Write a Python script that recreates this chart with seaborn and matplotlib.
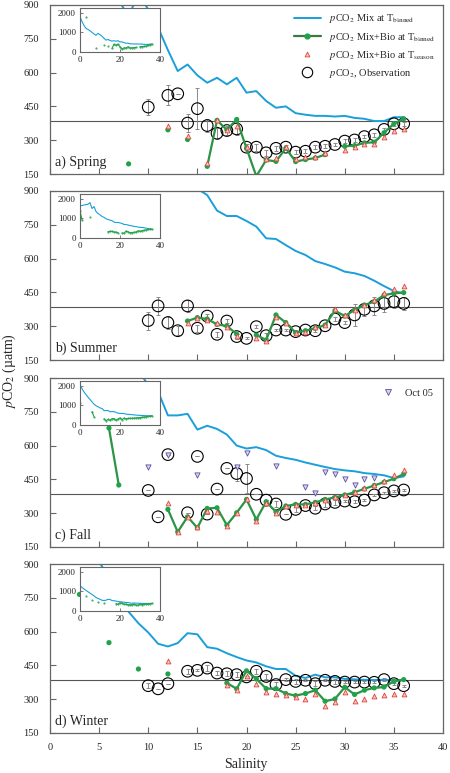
import numpy as np
import matplotlib.pyplot as plt
from matplotlib.lines import Line2D
import seaborn as sns

nan = np.nan

# === Data ===
salinity = np.arange(0, 37)
atm_pco2 = 387

spring_mix = [1800, 1550, 1350, 1200, 1150, 1080, 1000, 920, 850, 950, 880, 800, 700,
              607, 636, 588, 555, 577, 548, 577, 511, 518, 474, 444, 450, 420, 413, 408,
              408, 405, 408, 399, 395, 385, 385, 402, 402]
spring_bio = [nan, nan, nan, 1800, nan, nan, nan, nan, 195, nan, nan, nan, 346, nan, 303, nan,
              184, 388, 346, 392, 264, 140, 212, 206, 264, 205, 214, 221, 236, nan, 273, 276,
              288, 291, 333, 373, 395]
spring_season = [nan] * 12 + [361, nan, 318, nan, 199, 388, 346, 361, 269, nan, 217, 220, 269,
                              217, 224, 227, 242, nan, 258, 269, 281, 281, 316, 340, 350]
spring_obs = [nan] * 10 + [447, nan, 499, 506, 376, 440, 365, 331, 343, 350, 269, 269, 244, 264,
                           269, 247, 251, 269, 273, 281, 296, 301, 316, 324, 348, 373, 373]
spring_err = [0] * 10 + [35, 0, 45, 0, 40, 90, 30, 25, 20, 25, 15, 15, 12, 10, 10, 10, 10, 8, 8,
                         6, 8, 8, 6, 8, 6, 8, 8]

summer_mix = [1650, 1650, 1680, 1700, 1720, 1800, 1500, 1600, 1350, 1250, 1180, 1100, 1050,
              980, 940, 910, 882, 813, 789, 789, 767, 742, 690, 687, 660, 634, 616, 589, 576,
              561, 542, 535, 523, 502, 478, 456, 446]
summer_bio = [1400, 920, nan, nan, nan, 1080] + [nan] * 8 + [323, 338, 332, 308, 301, 265, nan,
                                                          261, 239, 350, 316, 271, 280, 291, 305,
                                                          369, 345, 372, 394, 409, 438, 446, 449]
summer_season = [nan] * 14 + [316, 335, 327, 316, 298, 257, nan, 249, 236, 339, 316, 268, 276,
                              298, 305, 376, 350, 372, 394, 416, 446, 464, 478]
summer_obs = [nan] * 10 + [325, 390, 316, 280, 390, 291, 345, 264, 323, 254, 246, 298, 258, 283,
                           283, 276, 283, 280, 302, 332, 316, 350, 375, 390, 401, 409, 401]
summer_err = [0] * 10 + [40, 40, 30, 20, 25, 15, 10, 10, 10, 10, 5, 8, 10, 6, 6, 6, 6, 6, 6, 8,
                         6, 50, 30, 40, 40, 30, 30]

fall_mix = [2050, 1850, 1680, 1550, 1420, 1300, 1180, 1060, 980, 930, 870, 840, 734, 734, 741,
            671, 688, 674, 649, 600, 587, 593, 580, 555, 545, 537, 525, 515, 505, 496, 490, 486,
            478, 474, 468, 456, 463]
fall_bio = [1130, nan, nan, nan, nan, nan, 678, 425, nan, nan, nan, nan] + [
    317, 217, 284, 235, 321, 324, 247, 302, 361, 272, 351, 306, 332, 339, 339, 348, 361, 370,
    381, 393, 408, 423, 438, 453, 474]
fall_season = [nan] * 12 + [344, 217, 284, 239, 309, 306, 242, 302, 363, 266, 347, 302, 332,
                            336, 336, 344, 359, 370, 381, 396, 411, 426, 444, 471, 490]
fall_obs = [nan] * 10 + [401, 284, 560, nan, 302, 552, 296, 407, 499, 476, 454, 384, 358, 341,
                         295, 317, 334, 322, 341, 348, 354, 351, 358, 381, 391, 399, 403]
fall_err = [0] * 10 + [0, 0, 0, 0, 0, 0, 0, 0, 0, 35, 65, 0, 0, 12, 0, 10, 0, 8, 12, 10, 6, 6,
                       6, 6, 4, 6, 6]
fall_oct05 = [nan] * 10 + [503, nan, 560, nan, nan, 469, nan, nan, nan, 506, 567, nan, nan, 508,
                           nan, nan, 418, 388, 481, 475, 451, 426, 453, 456, nan, nan, nan]

winter_mix = [1300, 1200, 1120, 1050, 980, 910, 840, 770, 688, 637, 596, 546, 534, 549, 593,
              588, 531, 524, 504, 487, 472, 463, 446, 434, 434, 404, 394, 409, 397, 397, 390,
              388, 386, 385, 386, 384, 385]
winter_bio = [nan, nan, nan, 765, nan, nan, 551, nan, nan, 434, nan, nan, 412] + [nan] * 5 + [
    372, 346, 426, 390, 347, 347, 325, 316, 325, 340, 291, 301, 353, 321, 340, 350, 354, 379, 387]
winter_season = [nan] * 12 + [468] + [nan] * 5 + [365, 340, 404, 368, 332, 325, 318, 310, 301,
                                                  325, 269, 288, 332, 291, 299, 313, 318, 325, 324]
winter_obs = [nan] * 10 + [360, 346, 369, nan, 424, 428, 438, 416, 413, 409, 399, 424, 401, 365,
                           387, 379, 384, 369, 384, 379, 376, 376, 376, 375, 387, 369, 360]
winter_err = [0] * 10 + [10, 0, 0, 0, 10, 5, 15, 10, 10, 12, 6, 10, 10, 12, 5, 10, 5, 10, 5, 10,
                         5, 5, 5, 5, 5, 5, 5]

panels = [
    ("a) Spring", spring_mix, spring_bio, spring_season, spring_obs, spring_err),
    ("b) Summer", summer_mix, summer_bio, summer_season, summer_obs, summer_err),
    ("c) Fall", fall_mix, fall_bio, fall_season, fall_obs, fall_err),
    ("d) Winter", winter_mix, winter_bio, winter_season, winter_obs, winter_err),
]

# === Style ===
sns.set_style("ticks")
plt.rcParams["font.family"] = ["Liberation Serif", "DejaVu Serif"]
plt.rcParams["mathtext.fontset"] = "stix"

blue = "#1a9fdb"
green = "#1fa34a"
green_line = "#2b9445"
red = "#e0443a"
red_fill = "#f7c6c1"
purple = "#5a4fa0"
spine_col = "#666666"

W, H = 450, 773
fig = plt.figure(figsize=(W / 100, H / 100), dpi=100)

tops = [5, 191, 378, 564]
ph = 169
axes = []
for i, (label, mix, bio, season, obs, err) in enumerate(panels):
    top = tops[i]
    ax = fig.add_axes([50 / W, 1 - (top + ph) / H, 393 / W, ph / H])
    axes.append(ax)

    ax.axhline(atm_pco2, color="#555555", lw=0.8, zorder=1)
    sns.lineplot(x=salinity, y=mix, color=blue, lw=1.4, ax=ax, zorder=2)
    ax.errorbar(salinity, obs, yerr=err, fmt="none", ecolor="#8a8a8a", elinewidth=0.7,
                capsize=1.6, capthick=0.7, zorder=3)
    sns.scatterplot(x=salinity, y=obs, marker="o", s=70, facecolors="none", edgecolor="black",
                    linewidth=0.8, ax=ax, zorder=4)
    ax.plot(salinity, bio, color=green_line, lw=1.6, zorder=5)
    sns.scatterplot(x=salinity, y=bio, color=green, s=14, edgecolor="none", ax=ax, zorder=6)
    sns.scatterplot(x=salinity, y=season, marker="^", s=12, color=red_fill, edgecolor=red,
                    linewidth=0.6, ax=ax, zorder=7)
    if label == "c) Fall":
        sns.scatterplot(x=salinity, y=fall_oct05, marker="v", s=14, color="#d8d4ef",
                        edgecolor=purple, linewidth=0.6, ax=ax, zorder=8)

    ax.set_xlim(0, 40)
    ax.set_ylim(150, 900)
    ax.set_xticks(range(0, 41, 5))
    ax.set_yticks(range(150, 901, 150))
    ax.tick_params(direction="in", length=4, width=0.8, color=spine_col, labelsize=7.5)
    ax.tick_params(axis="y", pad=8)
    ax.tick_params(axis="x", pad=7, labelbottom=(i == 3))
    ax.set_xlabel("")
    ax.set_ylabel("")
    for s in ax.spines.values():
        s.set_color(spine_col)
        s.set_linewidth(0.9)
    ax.text(0.012, 0.03, label, transform=ax.transAxes, fontsize=10, ha="left", va="bottom")

    # inset with the full range
    ins = fig.add_axes([80 / W, 1 - (top + 3 + 44) / H, 80 / W, 44 / H])
    sns.lineplot(x=salinity, y=mix, color=blue, lw=0.8, ax=ins)
    ins.plot(salinity, bio, color=green, lw=0.8, marker="o", ms=0.5)
    ins.set_xlim(0, 40)
    ins.set_ylim(0, 2240)
    ins.set_xticks([0, 20, 40])
    ins.set_yticks([0, 1000, 2000])
    ins.tick_params(direction="in", length=2, width=0.6, color=spine_col, labelsize=6.5, pad=3)
    ins.set_xlabel("")
    ins.set_ylabel("")
    for s in ins.spines.values():
        s.set_color(spine_col)
        s.set_linewidth(0.8)

# legend in spring panel
handles = [
    Line2D([], [], color=blue, lw=1.4),
    Line2D([], [], color="#3c7a40", lw=1.6, marker="o", ms=3.5, mfc=green, mec=green),
    Line2D([], [], ls="none", marker="^", ms=3.5, mfc=red_fill, mec=red, mew=0.6),
    Line2D([], [], ls="none", marker="o", ms=7.5, mfc="none", mec="black", mew=0.8),
]
labels = [
    r"$p$CO$_2$ Mix at T$_{\rm binned}$",
    r"$p$CO$_2$ Mix+Bio at T$_{\rm binned}$",
    r"$p$CO$_2$ Mix+Bio at T$_{\rm season}$",
    r"$p$CO$_2$, Observation",
]
axes[0].legend(handles, labels, loc="upper right", frameon=False, fontsize=7.5,
               handlelength=2.6, labelspacing=0.5, borderaxespad=0.3)

oct_handle = Line2D([], [], ls="none", marker="v", ms=4, mfc="#d8d4ef", mec=purple, mew=0.6)
axes[2].legend([oct_handle], ["Oct 05"], loc="upper right", frameon=False, fontsize=7.5,
               handlelength=1.5, borderaxespad=0.6)

fig.text(0.02, 1 - 371 / H, r"$p$CO$_2$ (µatm)", rotation=90, ha="center", va="center",
         fontsize=10)
fig.text((50 + 196) / W, 0.002, "Salinity", ha="center", va="bottom", fontsize=10)

fig.savefig("out.png", dpi=100)
